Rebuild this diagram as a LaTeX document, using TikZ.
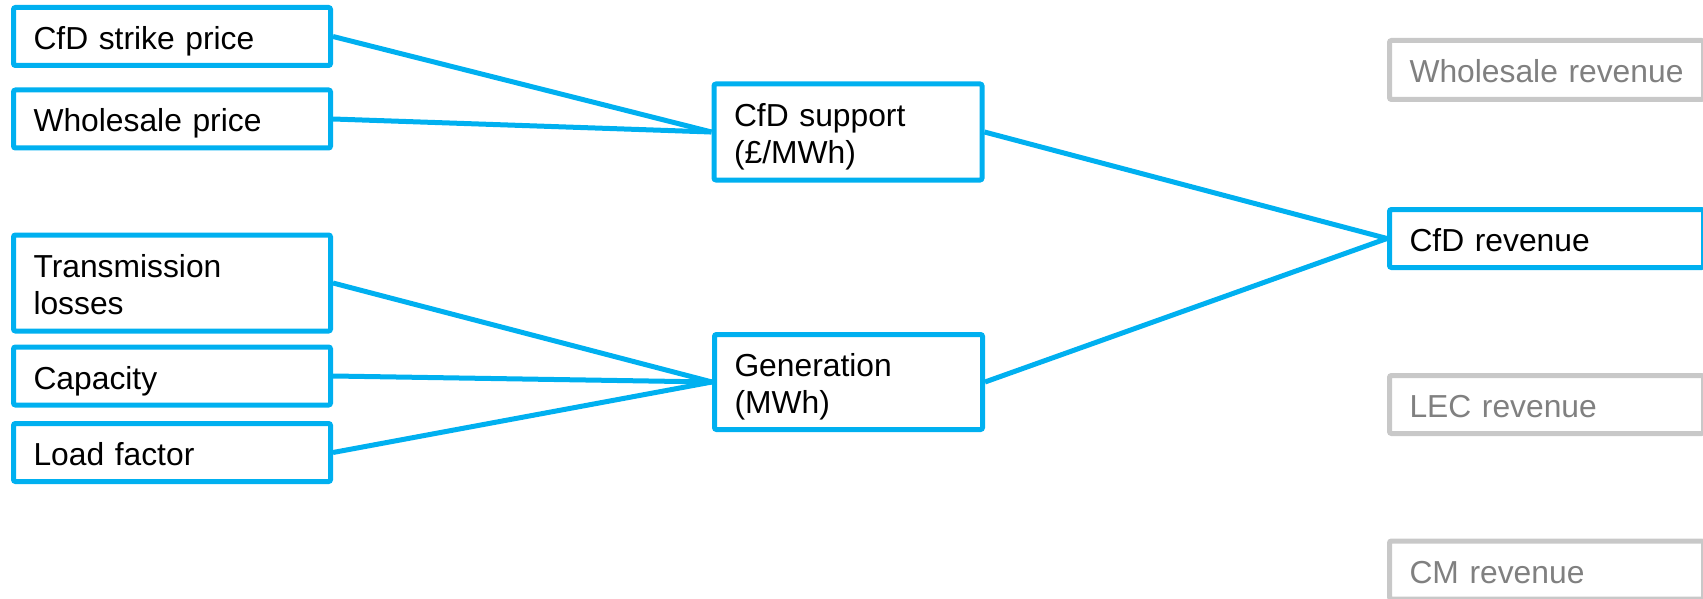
\documentclass[tikz,border=0pt]{standalone}
\usepackage{fontspec}
\setmainfont{Liberation Sans}
\definecolor{cfdblue}{HTML}{00B0F0}
\definecolor{boxgrey}{HTML}{C8C8C8}
\definecolor{textgrey}{HTML}{808080}
% first line carries a fixed-height strut, every line is smashed so the
% text block sits at the same height in every box
\newcommand\fl[1]{\rule{0pt}{26pt}\smash{#1}}
\newcommand\nl[1]{\smash{#1}}
\tikzset{
  box/.style={draw, line width=5pt, rounded corners=2pt, fill=white,
    rectangle, align=left, inner xsep=20pt, inner ysep=0pt,
    font=\fontsize{31.8}{37.5}\selectfont},
  inbox/.style={box, draw=cfdblue, minimum width=317pt, text width=277pt},
  midbox/.style={box, draw=cfdblue, minimum width=268pt, text width=228pt},
  outbox/.style={box, draw=cfdblue, minimum width=314pt, text width=274pt},
  offbox/.style={outbox, draw=boxgrey, text=textgrey},
  link/.style={draw=cfdblue, line width=5pt}
}
\begin{document}
\begin{tikzpicture}[x=1pt, y=-1pt]
  \useasboundingbox (0,0) rectangle (1703,599);
  \clip (0,0) rectangle (1703,599);

  % inputs
  \node[inbox, minimum height=58pt] (strike) at (172,36.5) {\fl{CfD strike price}};
  \node[inbox, minimum height=58pt] (wprice) at (172,119) {\fl{Wholesale price}};
  \node[inbox, minimum height=96pt] (trans)  at (172,283) {\fl{Transmission}\\\nl{losses}};
  \node[inbox, minimum height=58pt] (cap)    at (172,376) {\fl{Capacity}};
  \node[inbox, minimum height=58pt] (load)   at (172,452.5) {\fl{Load factor}};

  % intermediate quantities
  \node[midbox, minimum height=96pt] (support) at (848,132) {\fl{CfD support}\\\nl{(£/MWh)}};
  \node[midbox, minimum height=95pt] (gen)     at (848.5,382) {\fl{Generation}\\\nl{(MWh)}};

  % revenue streams
  \node[offbox, minimum height=59pt] (wrev)   at (1546.5,70)    {\fl{Wholesale revenue}};
  \node[outbox, minimum height=58pt] (cfdrev) at (1546.5,238.5) {\fl{CfD revenue}};
  \node[offbox, minimum height=58pt] (lecrev) at (1546.5,404.5) {\fl{LEC revenue}};
  \node[offbox, minimum height=58pt] (cmrev)  at (1546.5,570)   {\fl{CM revenue}};

  % connectors
  \draw[link] (strike.east) -- (support.west);
  \draw[link] (wprice.east) -- (support.west);
  \draw[link] (trans.east)  -- (gen.west);
  \draw[link] (cap.east)    -- (gen.west);
  \draw[link] (load.east)   -- (gen.west);
  \draw[link] (support.east) -- (cfdrev.west);
  \draw[link] (gen.east)     -- (cfdrev.west);
\end{tikzpicture}
\end{document}
